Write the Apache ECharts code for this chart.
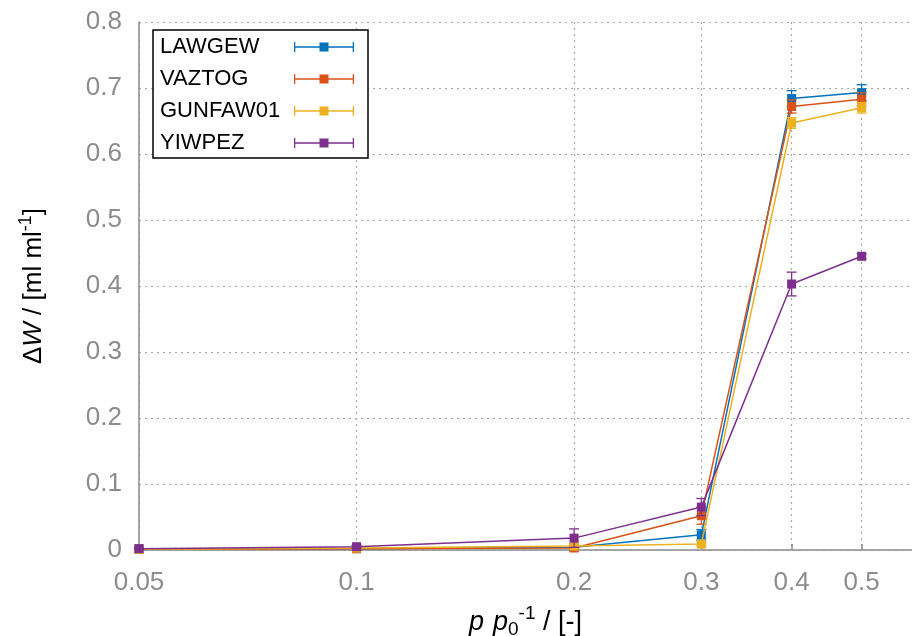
<!DOCTYPE html>
<html><head><meta charset="utf-8">
<script src="https://cdn.jsdelivr.net/npm/echarts@6/dist/echarts.min.js"></script>
<style>html,body{margin:0;padding:0;background:#fff}#chart{width:912px;height:636px}</style>
</head><body><div id="chart"></div>
<script>
// Relative pressure points and water uptake per structure
const pressures = [0.05, 0.1, 0.2, 0.3, 0.4, 0.5];
const xTickValues = [0.05, 0.1, 0.2, 0.3, 0.4, 0.5];
const seriesNames = ['LAWGEW', 'VAZTOG', 'GUNFAW01', 'YIWPEZ'];
const lawgew = [0.002, 0.002, 0.004, 0.023, 0.684, 0.693];
const lawgewErr = [0.001, 0.001, 0.002, 0.008, 0.012, 0.012];
const vaztog = [0.001, 0.002, 0.003, 0.052, 0.672, 0.683];
const vaztogErr = [0.001, 0.001, 0.002, 0.013, 0.010, 0.010];
const gunfaw01 = [0.001, 0.003, 0.006, 0.009, 0.647, 0.670];
const gunfaw01Err = [0.001, 0.001, 0.002, 0.003, 0.008, 0.008];
const yiwpez = [0.002, 0.005, 0.018, 0.065, 0.403, 0.445];
const yiwpezErr = [0.001, 0.002, 0.014, 0.013, 0.018, 0.004];

const values = [lawgew, vaztog, gunfaw01, yiwpez];
const errors = [lawgewErr, vaztogErr, gunfaw01Err, yiwpezErr];
const colors = ['#0072BD', '#D95319', '#EDB120', '#7E2F8E'];

const axisGray = '#8c8c8c';
const gridGray = '#a8a8a8';
const font = '"Liberation Sans", Arial, sans-serif';

// legend glyph: horizontal error bar with square marker
const legendIcon = 'path://M0,0H1.3V10H0Z M58.7,0H60V10H58.7Z M0,4.3H60V5.7H0Z M25.5,0.5H34.5V9.5H25.5Z';

function errorBarRenderer(color) {
  return function (params, api) {
    const x = api.value(0), y = api.value(1), e = api.value(2);
    const top = api.coord([x, y + e]);
    const bot = api.coord([x, Math.max(0, y - e)]);
    const hw = 5;
    const st = { stroke: color, lineWidth: 1.3 };
    return {
      type: 'group',
      children: [
        { type: 'line', shape: { x1: top[0], y1: top[1], x2: bot[0], y2: bot[1] }, style: st },
        { type: 'line', shape: { x1: top[0] - hw, y1: top[1], x2: top[0] + hw, y2: top[1] }, style: st },
        { type: 'line', shape: { x1: bot[0] - hw, y1: bot[1], x2: bot[0] + hw, y2: bot[1] }, style: st }
      ]
    };
  };
}

const series = [];
seriesNames.forEach((name, k) => {
  series.push({
    name: name,
    type: 'custom',
    renderItem: errorBarRenderer(colors[k]),
    itemStyle: { color: colors[k] },
    data: pressures.map((p, i) => [p, values[k][i], errors[k][i]]),
    encode: { x: 0, y: 1 },
    z: 2 + k * 2,
    silent: true
  });
  series.push({
    name: name,
    type: 'line',
    data: pressures.map((p, i) => [p, values[k][i]]),
    symbol: 'rect',
    symbolSize: 9,
    showSymbol: true,
    color: colors[k],
    itemStyle: { color: colors[k] },
    lineStyle: { width: 1.5, color: colors[k] },
    z: 3 + k * 2,
    animation: false
  });
});

const chart = echarts.init(document.getElementById('chart'), null, { renderer: 'canvas' });
chart.setOption({
  animation: false,
  color: colors,
  grid: { left: 139, top: 22, right: 0, bottom: 86, containLabel: false, outerBoundsMode: 'none' },
  legend: {
    data: seriesNames,
    orient: 'vertical',
    left: 153,
    top: 30,
    align: 'right',
    icon: legendIcon,
    itemWidth: 60,
    itemHeight: 10,
    itemGap: 10,
    padding: [6, 14, 4, 7],
    backgroundColor: '#fff',
    borderColor: '#000',
    borderWidth: 1.5,
    borderRadius: 0,
    itemStyle: { borderWidth: 0 },
    formatter: '{t|{name}}',
    textStyle: {
      color: '#000', fontFamily: font, fontSize: 22, lineHeight: 22,
      rich: { t: { width: 129, align: 'left', fontFamily: font, fontSize: 22, color: '#000', lineHeight: 22 } }
    }
  },
  xAxis: {
    type: 'log',
    logBase: 10,
    min: 0.05,
    max: 0.587,
    name: '{i|p}{s|}{i|p}{sub|0}{sup|-1}{n| / [-]}',
    nameLocation: 'middle',
    nameGap: 54,
    nameTextStyle: {
      rich: {
        i: { fontFamily: font, fontStyle: 'italic', fontSize: 27, color: '#000' },
        s: { width: 9, fontSize: 27 },
        n: { fontFamily: font, fontSize: 27, color: '#000' },
        sub: { fontFamily: font, fontSize: 19, color: '#000', padding: [14, 0, 0, 0] },
        sup: { fontFamily: font, fontSize: 19, color: '#000', padding: [0, 0, 18, 0] }
      }
    },
    axisLine: { show: true, onZero: false, lineStyle: { color: axisGray, width: 1.5 } },
    axisTick: { show: true, inside: true, length: 6, customValues: xTickValues, lineStyle: { color: axisGray, width: 1.5 } },
    axisLabel: {
      customValues: xTickValues,
      color: axisGray,
      fontFamily: font,
      fontSize: 26,
      margin: 20,
      formatter: v => String(+Number(v).toPrecision(3))
    },
    splitLine: { show: true, lineStyle: { color: gridGray, type: [2, 4], width: 1.2 } },
    minorTick: { show: false },
    minorSplitLine: { show: false }
  },
  yAxis: {
    type: 'value',
    min: 0,
    max: 0.8,
    interval: 0.1,
    name: '{d|Δ}{i|W}{n| / [ml ml}{sup|-1}{n|]}',
    nameLocation: 'middle',
    nameRotate: 90,
    nameGap: 88,
    nameTextStyle: {
      rich: {
        d: { fontFamily: font, fontSize: 26, color: '#000' },
        i: { fontFamily: font, fontStyle: 'italic', fontSize: 26, color: '#000' },
        n: { fontFamily: font, fontSize: 26, color: '#000' },
        sup: { fontFamily: font, fontSize: 18, color: '#000', padding: [0, 0, 16, 0] }
      }
    },
    axisLine: { show: true, lineStyle: { color: axisGray, width: 1.5 } },
    axisTick: { show: false },
    axisLabel: {
      color: axisGray,
      fontFamily: font,
      fontSize: 26,
      margin: 17,
      formatter: v => (v === 0 ? '0' : v.toFixed(1))
    },
    splitLine: { show: true, lineStyle: { color: gridGray, type: [2, 4], width: 1.2 } }
  },
  series: series
});
</script>
</body></html>
